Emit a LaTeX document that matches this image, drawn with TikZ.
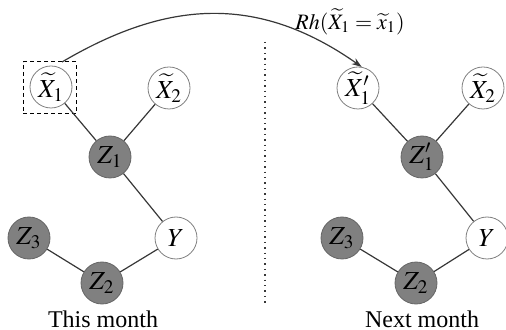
\documentclass[tikz,border=0pt]{standalone}
\usepackage{amsmath}
\usepackage{amssymb}
\usepackage{mathptmx}
\usepackage[no-math]{fontspec}
\setmainfont{Liberation Serif}
\usepackage{tikz}
\usepackage{xcolor}
\usetikzlibrary{arrows.meta}

\definecolor{latgray}{RGB}{128,128,128}
\definecolor{linegray}{RGB}{55,55,55}

\begin{document}
\begin{tikzpicture}[x=0.5pt,y=-0.5pt,
  obs/.style={circle,draw=black!50,fill=white,minimum size=21pt,inner sep=0pt,font=\fontsize{13}{15}\selectfont},
  lat/.style={circle,draw=black!60,fill=latgray,minimum size=21pt,inner sep=0pt,font=\fontsize{13}{15}\selectfont},
  link/.style={draw=linegray,line width=0.6pt},
  caption/.style={font=\fontsize{12}{14}\selectfont}]
\useasboundingbox (0,0) rectangle (506,330);
% this month
\node[obs] (X1) at (51,87) {$\widetilde{X}_1$};
\node[obs] (X2) at (169,88) {$\widetilde{X}_2$};
\node[lat] (Z1) at (110,157) {$Z_1$};
\node[obs] (Y) at (176,238) {$Y$};
\node[lat] (Z3) at (29,238) {$Z_3$};
\node[lat] (Z2) at (102,283) {$Z_2$};
\node[draw,line width=0.5pt,dash pattern=on 2pt off 1.5pt,minimum width=26.5pt,minimum height=26pt] (box) at (49.5,88) {};
\draw[link] (X1)--(Z1);
\draw[link] (X2)--(Z1);
\draw[link] (Z1)--(Y);
\draw[link] (Y)--(Z2);
\draw[link] (Z3)--(Z2);
\node[caption] (thism) at (103,319) {This month};
% next month
\node[obs] (X1n) at (358,88) {$\widetilde{X}_1'$};
\node[obs] (X2n) at (483,88) {$\widetilde{X}_2$};
\node[lat] (Z1n) at (422,157) {$Z_1'$};
\node[obs] (Yn) at (487,238) {$Y$};
\node[lat] (Z3n) at (342,238) {$Z_3$};
\node[lat] (Z2n) at (416,283) {$Z_2$};
\draw[link] (X1n)--(Z1n);
\draw[link] (X2n)--(Z1n);
\draw[link] (Z1n)--(Yn);
\draw[link] (Yn)--(Z2n);
\draw[link] (Z3n)--(Z2n);
\node[caption] (nextm) at (422,319) {Next month};
% divider and intervention arc
\coordinate (divtop) at (265,42);
\coordinate (divbot) at (265,305);
\draw[linegray,dotted,line width=0.7pt] (divtop)--(divbot);
\coordinate (arcstart) at (62,62);
\draw[link,-{Stealth[length=5pt,width=3.5pt]}] (arcstart) .. controls (164,2) and (255,-8) .. (X1n.80);
\node[font=\fontsize{11}{13}\selectfont] (rh) at (350,22) {$Rh(\widetilde{X}_1=\widetilde{x}_1)$};
\end{tikzpicture}
\end{document}
